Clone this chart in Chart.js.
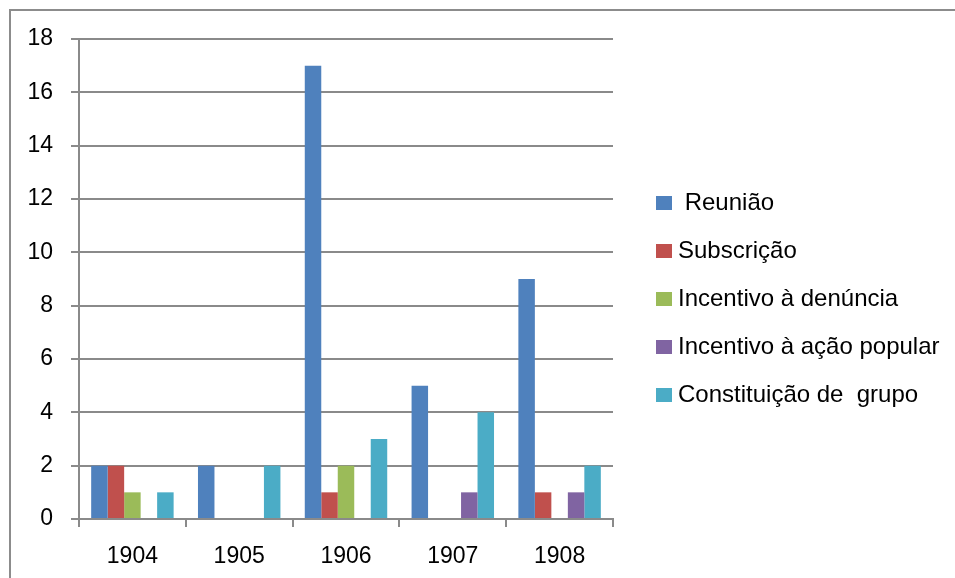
<!DOCTYPE html>
<html>
<head>
<meta charset="utf-8">
<script src="https://cdn.jsdelivr.net/npm/chart.js@4/dist/chart.umd.min.js"></script>
<style>
  html, body { margin: 0; padding: 0; background: #fff; }
  #wrap { width: 955px; height: 578px; position: relative; }
</style>
</head>
<body>
<div id="wrap"><canvas id="c" width="955" height="578"></canvas></div>
<script>
// Years on the category axis
const years = ['1904', '1905', '1906', '1907', '1908'];

// Number of occurrences per type, in the year order above
const reuniao       = [2, 2, 17, 5, 9];
const subscricao    = [2, 0, 1, 0, 1];
const denuncia      = [1, 0, 2, 0, 0];
const acaoPopular   = [0, 0, 0, 1, 1];
const grupo         = [1, 2, 3, 4, 2];

const seriesLabels = [' Reunião', 'Subscrição', 'Incentivo à denúncia', 'Incentivo à ação popular', 'Constituição de  grupo'];
const seriesColors = ['#4F81BD', '#C0504D', '#9BBB59', '#8064A2', '#4BACC6'];
const seriesValues = [reuniao, subscricao, denuncia, acaoPopular, grupo];

// Y axis ticks: 0 to 18, every 2
const yMin = 0, yMax = 18, yStep = 2;

const FONT = "'Liberation Sans', Arial, sans-serif";
const GRID = '#8a8a8a';

// Outer frame around the chart
const framePlugin = {
  id: 'frame',
  beforeDraw(chart) {
    const ctx = chart.ctx;
    ctx.save();
    ctx.fillStyle = '#fff';
    ctx.fillRect(0, 0, chart.width, chart.height);
    ctx.strokeStyle = '#8c8c8c';
    ctx.lineWidth = 2;
    ctx.strokeRect(10, 10, chart.width + 20, chart.height + 20);
    ctx.restore();
  }
};

// Legend listed on the right of the plot
const sideLegend = {
  id: 'sideLegend',
  afterDraw(chart) {
    const ctx = chart.ctx;
    ctx.save();
    ctx.font = '24px ' + FONT;
    ctx.textBaseline = 'middle';
    ctx.textAlign = 'left';
    chart.data.datasets.forEach((ds, i) => {
      const cy = 203 + i * 48;
      ctx.fillStyle = ds.backgroundColor;
      ctx.fillRect(656, cy - 7, 16, 14);
      ctx.fillStyle = '#000';
      ctx.fillText(ds.label, 678, cy);
    });
    ctx.restore();
  }
};

new Chart(document.getElementById('c'), {
  type: 'bar',
  data: {
    labels: years,
    datasets: seriesLabels.map((label, i) => ({
      label,
      data: seriesValues[i],
      backgroundColor: seriesColors[i],
      borderWidth: 0,
      categoryPercentage: 0.772,
      barPercentage: 1.0
    }))
  },
  options: {
    responsive: false,
    animation: false,
    devicePixelRatio: 1,
    layout: { padding: { left: 10, right: 342, top: 39, bottom: 0 } },
    plugins: {
      legend: { display: false },
      tooltip: { enabled: false }
    },
    scales: {
      x: {
        afterFit(scale) { scale.height = 59; },
        grid: {
          offset: true,
          drawOnChartArea: false,
          drawTicks: true,
          tickLength: 8,
          color: GRID,
          lineWidth: 2
        },
        border: { display: true, color: GRID, width: 2 },
        ticks: {
          color: '#000',
          padding: 16,
          font: { family: FONT, size: 23 }
        }
      },
      y: {
        min: yMin,
        max: yMax,
        afterFit(scale) { scale.width = 69; },
        grid: {
          drawTicks: true,
          tickLength: 8,
          color: GRID,
          lineWidth: 2
        },
        border: { display: true, color: GRID, width: 2 },
        ticks: {
          stepSize: yStep,
          color: '#000',
          padding: 18,
          font: { family: FONT, size: 23 }
        }
      }
    }
  },
  plugins: [framePlugin, sideLegend]
});
</script>
</body>
</html>
